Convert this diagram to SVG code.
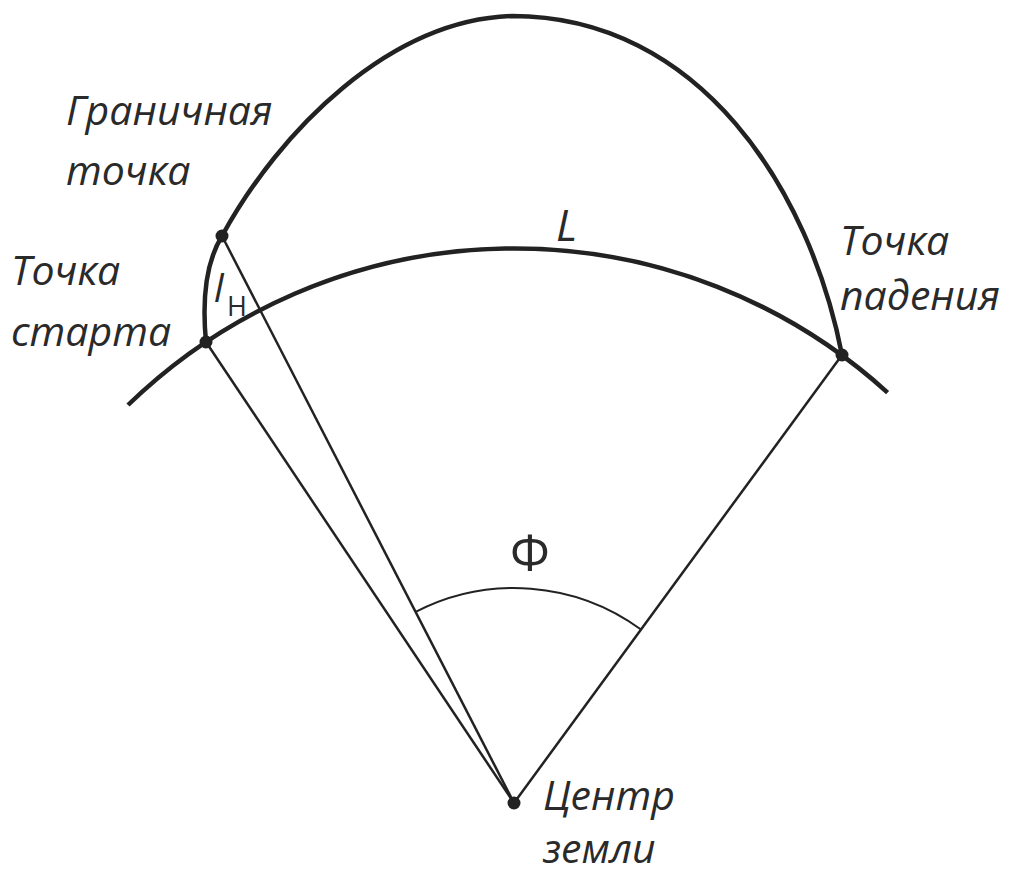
<svg xmlns="http://www.w3.org/2000/svg" width="1014" height="875" viewBox="0 0 1014 875">
<style>
.thick{fill:none;stroke:#222;stroke-width:4.5;stroke-linecap:butt}
.thin{fill:none;stroke:#222;stroke-width:2.5}
.arc{fill:none;stroke:#222;stroke-width:2}
.dot{fill:#222}
.lbl{font-family:"Open Sans","DejaVu Sans",sans-serif;font-style:italic;font-size:41px;fill:#2a2a2a}
.sym{font-family:"Open Sans","DejaVu Sans",sans-serif;fill:#2a2a2a}
</style>
<rect width="1014" height="875" fill="#fff"/>
<g id="connectors">
<path class="thick" d="M128,405 A555,555 0 0,1 887.6,392.6"/>
<path class="thick" d="M206,342 C202,300 206,262 222,236 C280,130 390,20 512,16 C700,16 810,190 842,355"/>
<line class="thin" x1="514" y1="803" x2="206" y2="342"/>
<line class="thin" x1="514" y1="803" x2="222" y2="236"/>
<line class="thin" x1="514" y1="803" x2="842" y2="355"/>
<path class="arc" d="M415.6,611.9 A215,215 0 0,1 641,629.5"/>
</g>
<g id="start"><circle class="dot" cx="206" cy="342" r="6.5"/><text class="lbl" x="11" y="285">Точка</text><text class="lbl" x="11" y="346">старта</text></g>
<g id="boundary"><circle class="dot" cx="222" cy="236" r="6.5"/><text class="lbl" x="66" y="125">Граничная</text><text class="lbl" x="66" y="185">точка</text></g>
<g id="landing"><circle class="dot" cx="842" cy="355" r="6.5"/><text class="lbl" x="840" y="255">Точка</text><text class="lbl" x="840" y="310">падения</text></g>
<g id="center"><circle class="dot" cx="514" cy="803" r="6.5"/><text class="lbl" x="543" y="810" font-size="39">Центр</text><text class="lbl" x="543" y="863" font-size="39">земли</text></g>
<g id="labels">
<text class="sym" x="556" y="241" font-size="44" font-style="italic">L</text>
<text class="sym" x="530" y="571" font-size="50" text-anchor="middle">Φ</text>
<text class="sym" x="214" y="302" font-size="38" font-style="italic">l</text>
<text class="sym" x="227" y="316" font-size="27">Н</text>
</g>
</svg>
